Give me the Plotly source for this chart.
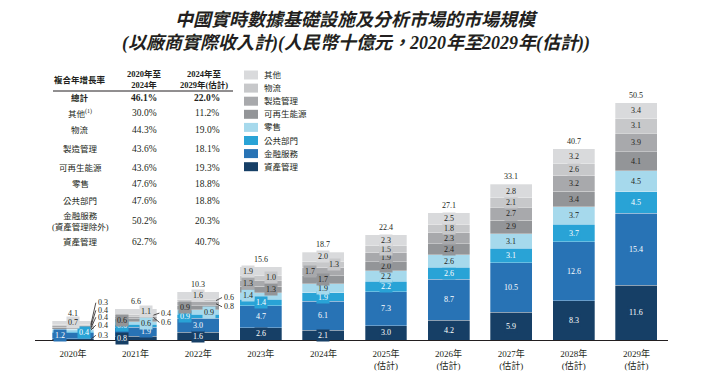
import plotly.graph_objects as go

# ---------------- data ----------------
years = ["2020年", "2021年", "2022年", "2023年", "2024年",
         "2025年<br>(估計)", "2026年<br>(估計)", "2027年<br>(估計)",
         "2028年<br>(估計)", "2029年<br>(估計)"]

series_names = ["資產管理", "金融服務", "公共部門", "零售", "可再生能源", "製造管理", "物流", "其他"]

asset_mgmt   = [0.3, 0.8, 1.6, 2.6, 2.1, 3.0, 4.2, 5.9, 8.3, 11.6]
fin_services = [1.2, 1.9, 3.0, 4.7, 6.1, 7.3, 8.7, 10.5, 12.6, 15.4]
public       = [0.4, 0.6, 0.9, 1.4, 1.9, 2.2, 2.6, 3.1, 3.7, 4.5]
retail       = [0.4, 0.6, 0.9, 1.4, 1.9, 2.2, 2.6, 3.1, 3.7, 4.5]
renewable    = [0.4, 0.6, 0.9, 1.3, 1.7, 2.0, 2.4, 2.9, 3.4, 4.1]
manufacturing= [0.4, 0.6, 0.8, 1.3, 1.7, 1.9, 2.3, 2.7, 3.2, 3.9]
logistics    = [0.3, 0.4, 0.6, 1.0, 1.3, 1.5, 1.8, 2.1, 2.6, 3.1]
others       = [0.7, 1.1, 1.6, 1.9, 2.0, 2.3, 2.5, 2.8, 3.2, 3.4]
totals       = [4.1, 6.6, 10.3, 15.6, 18.7, 22.4, 27.1, 33.1, 40.7, 50.5]

table_rows   = ["<b>總計</b>", "其他<sup>(1)</sup>", "物流", "製造管理", "可再生能源", "零售",
                "公共部門", "金融服務<br>(資產管理除外)", "資產管理"]
cagr_20_24   = ["<b>46.1%</b>", "30.0%", "44.3%", "43.6%", "43.6%", "47.6%", "47.6%", "50.2%", "62.7%"]
cagr_24_29   = ["<b>22.0%</b>", "11.2%", "19.0%", "18.1%", "19.3%", "18.8%", "18.8%", "20.3%", "40.7%"]

series_values = [asset_mgmt, fin_services, public, retail, renewable, manufacturing, logistics, others]

# ---------------- styles ----------------
colors = ["#163f66", "#2873b5", "#29a3d6", "#a6d9ec", "#939598", "#a8a9ac", "#c7c8ca", "#d9dadc"]
text_colors = ["white", "white", "white", "#231f20", "#231f20", "#231f20", "#231f20", "#231f20"]
DARK = "#231f20"
SERIF = "Liberation Serif, Noto Sans CJK TC, serif"
CJK = "Liberation Serif, Noto Sans CJK TC, sans-serif"

OFF = 8  # page body margin
FIG_W, FIG_H = 713 - OFF, 376 - OFF
BASE_Y = 340 - OFF          # baseline in figure pixels
ML = 35 - OFF
MR = FIG_W - (668 - OFF)
MT = 95 - OFF
MB = FIG_H - BASE_Y
PW, PH = FIG_W - ML - MR, FIG_H - MT - MB
PX_PER_X = 62.6
PX_PER_Y = 4.7
x0 = (73 - 35) / PX_PER_X
xrange = [-x0, -x0 + PW / PX_PER_X]
yrange = [0, PH / PX_PER_Y]
BAR_W = 0.67
LEAD_IN = 0.05  # leader line starts slightly inside the bar


def xp(px):  # screen px -> paper
    return (px - OFF - ML) / PW


def yp(py):  # screen px -> paper
    return (BASE_Y - (py - OFF)) / PH


# label placements per year (per series, bottom->top)
L, R, C = -0.21, 0.17, 0.0
placements = [
    [("lead", 5, -4), L, R, ("lead", 5, -5), ("lead", 5, -11), ("lead", 5, -16), ("lead", 5, -22), C],
    [L, R, L, R, L, ("lead", 6, 5), ("lead", 6, -2), R],
    [C, C, L, R, L, ("lead", 6, 3), ("lead", 6, -3), C],
    [C, C, C, L, R, L, R, L],
    [C, C, C, C, C, L, R, C],
] + [[C] * 8 for _ in range(5)]

fig = go.Figure()
xs = list(range(len(years)))
for name, vals, col in zip(series_names, series_values, colors):
    fig.add_trace(go.Bar(x=xs, y=vals, name=name,
                         marker=dict(color=col, line=dict(color="rgba(255,255,255,0.6)", width=0.5)),
                         width=BAR_W, hoverinfo="skip", showlegend=False))

ann = []
for i in xs:
    base = 0.0
    for j, vals in enumerate(series_values):
        v = vals[i]
        mid = base + v / 2
        base += v
        pl = placements[i][j]
        if isinstance(pl, tuple):
            _, ax, ay = pl
            ann.append(dict(x=i + BAR_W / 2 - LEAD_IN, y=mid, xref="x", yref="y", text=f"{v:.1f}",
                            showarrow=True, arrowhead=0, arrowwidth=0.8, arrowcolor=DARK,
                            ax=ax, ay=ay, xanchor="left", yanchor="middle", standoff=0, startstandoff=0,
                            font=dict(family=SERIF, size=8, color=DARK)))
        else:
            ann.append(dict(x=i + pl, y=mid, xref="x", yref="y", text=f"{v:.1f}", showarrow=False,
                            xanchor="center", yanchor="middle", bgcolor=colors[j], borderpad=1,
                            font=dict(family=SERIF, size=8, color=text_colors[j])))
    ann.append(dict(x=i, y=totals[i], xref="x", yref="y", text=f"{totals[i]:.1f}", showarrow=False,
                    xanchor="center", yanchor="bottom", yshift=1,
                    font=dict(family=SERIF, size=8, color=DARK)))


def paper_text(px, py, text, size, family=CJK, xanchor="center"):
    ann.append(dict(x=xp(px), y=yp(py), xref="paper", yref="paper", showarrow=False,
                    xanchor=xanchor, yanchor="middle", text=text,
                    font=dict(family=family, size=size, color=DARK)))


# title
paper_text(356, 20, "<b><i>中國實時數據基礎設施及分析市場的市場規模</i></b>", 18)
paper_text(356, 44, "<b><i>(以廠商實際收入計)(人民幣十億元，2020年至2029年(估計))</i></b>", 18)

# table
paper_text(80, 80, "<b>複合年增長率</b>", 8.5)
paper_text(144, 80, "<b>2020年至<br>2024年</b>", 8.5)
paper_text(204, 80, "<b>2024年至<br>2029年(估計)</b>", 8.5)
row_y = [98, 113, 130, 149, 168, 184, 201, 221, 242]
for lab, a, b, ry in zip(table_rows, cagr_20_24, cagr_24_29, row_y):
    paper_text(80, ry, lab, 8.5)
    paper_text(144, ry, a, 9.5, SERIF)
    paper_text(207, ry, b, 9.5, SERIF)

shapes = [dict(type="line", xref="paper", yref="paper", x0=xp(53), x1=xp(233), y0=yp(91), y1=yp(91),
               line=dict(color=DARK, width=1))]

# legend (top to bottom)
leg_y0, leg_step = 75, 13.1
for k, j in enumerate(reversed(range(len(series_names)))):
    cy = leg_y0 + k * leg_step
    shapes.append(dict(type="rect", xref="paper", yref="paper", x0=xp(244), x1=xp(258),
                       y0=yp(cy - 4.5), y1=yp(cy + 4.5), fillcolor=colors[j], line=dict(width=0)))
    paper_text(262, cy, series_names[j], 8.5, xanchor="left")

fig.update_layout(
    width=FIG_W, height=FIG_H, barmode="stack",
    margin=dict(l=ML, r=MR, t=MT, b=MB, autoexpand=False),
    plot_bgcolor="white", paper_bgcolor="white",
    annotations=ann, shapes=shapes, showlegend=False,
    xaxis=dict(range=xrange, tickmode="array", tickvals=xs, ticktext=years, showgrid=False,
               zeroline=False, showline=True, linecolor=DARK, linewidth=1, ticks="",
               ticklabelstandoff=5,
               tickfont=dict(family=CJK, size=9, color=DARK), automargin=False, fixedrange=True),
    yaxis=dict(range=yrange, visible=False, showgrid=False, zeroline=False, automargin=False, fixedrange=True),
)

fig.write_html("out.html")
